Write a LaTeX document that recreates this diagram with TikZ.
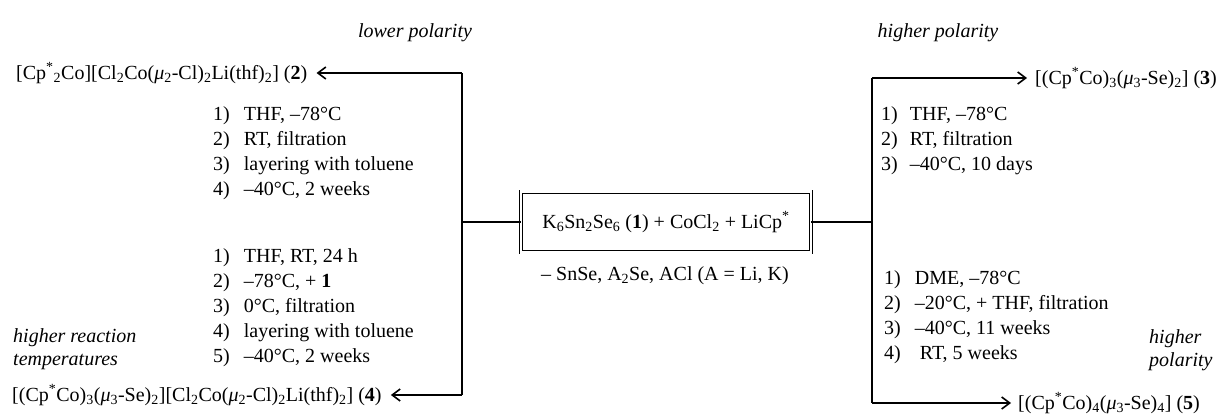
\documentclass[tikz,border=0pt]{standalone}
\usepackage{fontspec}
\setmainfont{Liberation Serif}
\usetikzlibrary{arrows.meta}
\newcommand\sbs[1]{\textsubscript{#1}}
\newcommand\sps[1]{\textsuperscript{#1}}
\newcommand\mut{\textit{μ}}
\begin{document}
\begin{tikzpicture}[x=1pt,y=-1pt,
  every node/.style={font=\fontsize{20}{25}\selectfont, inner sep=0pt},
  line/.style={line width=1.6pt},
  arr/.style={line width=1.6pt,-{Straight Barb[length=8pt,width=12pt,line width=1.6pt]}},
  cond/.style={anchor=base west},
  remark/.style={font=\fontsize{20}{23}\selectfont\itshape, anchor=base west},
  mix/.style={draw, double, double distance=2.2pt, line width=0.9pt, inner xsep=21pt, inner ysep=20pt}
]
\useasboundingbox (0,0) rectangle (1219,417);

% starting mixture and by-products
\node[mix] (mix) at (666,222) {K\sbs{6}Sn\sbs{2}Se\sbs{6} (\textbf{1}) + CoCl\sbs{2} + LiCp\sps{*}};
\node (byp) at (665,276) {– SnSe, A\sbs{2}Se, ACl (A = Li, K)};

% products
\node[anchor=west] (c2) at (16,73) {[Cp\sps{*}\sbs{2}Co][Cl\sbs{2}Co(\mut\sbs{2}-Cl)\sbs{2}Li(thf)\sbs{2}] (\textbf{2})};
\node[anchor=west] (c3) at (1035,78) {[(Cp\sps{*}Co)\sbs{3}(\mut\sbs{3}-Se)\sbs{2}] (\textbf{3})};
\node[anchor=west] (c4) at (12,395) {[(Cp\sps{*}Co)\sbs{3}(\mut\sbs{3}-Se)\sbs{2}][Cl\sbs{2}Co(\mut\sbs{2}-Cl)\sbs{2}Li(thf)\sbs{2}] (\textbf{4})};
\node[anchor=west] (c5) at (1018,403) {[(Cp\sps{*}Co)\sbs{4}(\mut\sbs{3}-Se)\sbs{4}] (\textbf{5})};

% branch points
\coordinate (lt) at (462,73);
\coordinate (lm) at (462,222);
\coordinate (lb) at (462,395);
\coordinate (rt) at (872,78);
\coordinate (rm) at (872,222);
\coordinate (rb) at (872,403);

\draw[line] (mix.west) -- (lm);
\draw[line] (mix.east) -- (rm);
\draw[line] (lt) -- (lb);
\draw[line] (rt) -- (rb);
\draw[arr] (lt) -- ([xshift=9pt]c2.east);
\draw[arr] (lb) -- ([xshift=9pt]c4.east);
\draw[arr] (rt) -- ([xshift=-8pt]c3.west);
\draw[arr] (rb) -- ([xshift=-7pt]c5.west);

% reaction conditions
\node[cond] (l1) at (213,121) {\begin{tabular}[t]{@{}l@{\hspace{14pt}}l@{}}
1) & THF, –78°C\\ 2) & RT, filtration\\ 3) & layering with toluene\\ 4) & –40°C, 2 weeks\end{tabular}};
\node[cond] (l2) at (213,262) {\begin{tabular}[t]{@{}l@{\hspace{14pt}}l@{}}
1) & THF, RT, 24 h\\ 2) & –78°C, + \textbf{1}\\ 3) & 0°C, filtration\\ 4) & layering with toluene\\ 5) & –40°C, 2 weeks\end{tabular}};
\node[cond] (r1) at (881,121) {\begin{tabular}[t]{@{}l@{\hspace{12pt}}l@{}}
1) & THF, –78°C\\ 2) & RT, filtration\\ 3) & –40°C, 10 days\end{tabular}};
\node[cond] (r2) at (884,284) {\begin{tabular}[t]{@{}l@{\hspace{14pt}}l@{}}
1) & DME, –78°C\\ 2) & –20°C, + THF, filtration\\ 3) & –40°C, 11 weeks\\ 4) & \ RT, 5 weeks\end{tabular}};

% remarks
\node[remark, anchor=center] (lowp) at (415,33) {lower polarity};
\node[remark, anchor=center] (highp) at (938,33) {higher polarity};
\node[remark] (temp) at (13,342) {\begin{tabular}[t]{@{}l@{}}higher reaction\\temperatures\end{tabular}};
\node[remark] (highp2) at (1149,343) {\begin{tabular}[t]{@{}l@{}}higher\\polarity\end{tabular}};
\end{tikzpicture}
\end{document}
